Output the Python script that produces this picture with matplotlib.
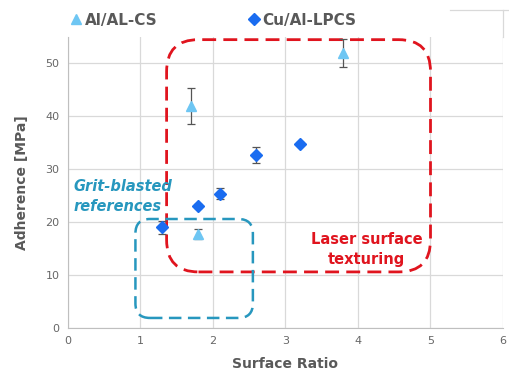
import matplotlib
matplotlib.use("Agg")
import matplotlib.pyplot as plt
from matplotlib.patches import FancyBboxPatch
from matplotlib.lines import Line2D

# Data
al_x = [1.7, 3.8, 1.8]
al_y = [42.0, 52.0, 17.8]
al_err = [3.4, 2.6, 1.0]

cu_x = [1.3, 1.8, 2.1, 2.6, 3.2]
cu_y = [19.0, 23.1, 25.4, 32.7, 34.8]
cu_err = [1.3, 0.4, 1.0, 1.5, 0.3]

series_names = ["Al/AL-CS", "Cu/Al-LPCS"]
x_ticks = [0, 1, 2, 3, 4, 5, 6]
y_ticks = [0, 10, 20, 30, 40, 50]

# Annotation regions (x0, y0, x1, y1) in data units
laser_box = (1.36, 10.6, 5.0, 54.5)
grit_box = (0.93, 1.9, 2.55, 20.6)

TRI_C = "#6EC6F3"
DIA_C = "#1A6CF0"
RED = "#E0141E"
TEAL = "#2797BE"
GRAY = "#595959"

fig = plt.figure(figsize=(5.1, 3.74), dpi=100)
ax = fig.add_axes([68/510, 1-328/374, (503-68)/510, (328-37)/374])
ax.set_xlim(0, 6)
ax.set_ylim(0, 55)
ax.set_xticks(x_ticks)
ax.set_yticks(y_ticks)
ax.grid(True, color="#D9D9D9", lw=0.9)
ax.set_axisbelow(True)
for s in ["top", "right"]:
    ax.spines[s].set_visible(False)
for s in ["left", "bottom"]:
    ax.spines[s].set_color("#BFBFBF")
ax.tick_params(length=0, colors="#666666", labelsize=8, pad=6)

# aspect: y-units per x-unit for equal pixel size
bbox = ax.get_window_extent()
px_x = bbox.width / 6
px_y = bbox.height / 55
aspect = px_x / px_y

def rbox(box, r, color, lw, dashes):
    x0, y0, x1, y1 = box
    p = FancyBboxPatch((x0, y0), x1 - x0, y1 - y0,
                       boxstyle=f"round,pad=0,rounding_size={r}",
                       mutation_aspect=aspect, fill=False,
                       edgecolor=color, lw=lw, zorder=4)
    p.set_linestyle((0, dashes))
    ax.add_patch(p)

rbox(laser_box, 0.44, RED, 2.0, (5, 2.6))
rbox(grit_box, 0.2, TEAL, 1.8, (5, 2.6))

ax.errorbar(al_x, al_y, yerr=al_err, fmt="^", color=TRI_C, ms=7,
            ecolor="#555555", elinewidth=0.9, capsize=3, capthick=0.9,
            zorder=5, clip_on=False)
ax.errorbar(cu_x, cu_y, yerr=cu_err, fmt="D", color=DIA_C, ms=6.5,
            ecolor="#555555", elinewidth=0.9, capsize=3, capthick=0.9,
            zorder=5)

ax.text(0.07, 24.9, "Grit-blasted\nreferences", color=TEAL, fontsize=10.5,
        fontweight="bold", style="italic", ha="left", va="center",
        linespacing=1.4, zorder=6)
ax.text(4.12, 14.9, "Laser surface\ntexturing", color=RED, fontsize=10.5,
        fontweight="bold", ha="center", va="center", linespacing=1.4,
        zorder=6)

ax.set_xlabel("Surface Ratio", fontsize=10, fontweight="bold", color=GRAY,
              labelpad=8)
ax.set_ylabel("Adherence [MPa]", fontsize=10, fontweight="bold", color=GRAY,
              labelpad=12)

# legend
handles = [Line2D([], [], marker="^", ls="none", color=TRI_C, ms=7),
           Line2D([], [], marker="D", ls="none", color=DIA_C, ms=6)]
leg = fig.legend(handles, series_names, loc="center left",
                 bbox_to_anchor=(0.115, 1-20/374), ncol=2, frameon=False,
                 handlelength=0.5, handletextpad=0.3, columnspacing=6.1,
                 prop={"weight": "bold", "size": 11})
for t in leg.get_texts():
    t.set_color(GRAY)

# frame fragment at top right
fig.add_artist(Line2D([450/510, 1], [1-10/374, 1-10/374], color="#D9D9D9", lw=0.9))
fig.add_artist(Line2D([503/510, 503/510], [1-10/374, 1-37/374], color="#D9D9D9", lw=0.9))

fig.savefig("out.png", dpi=100)
